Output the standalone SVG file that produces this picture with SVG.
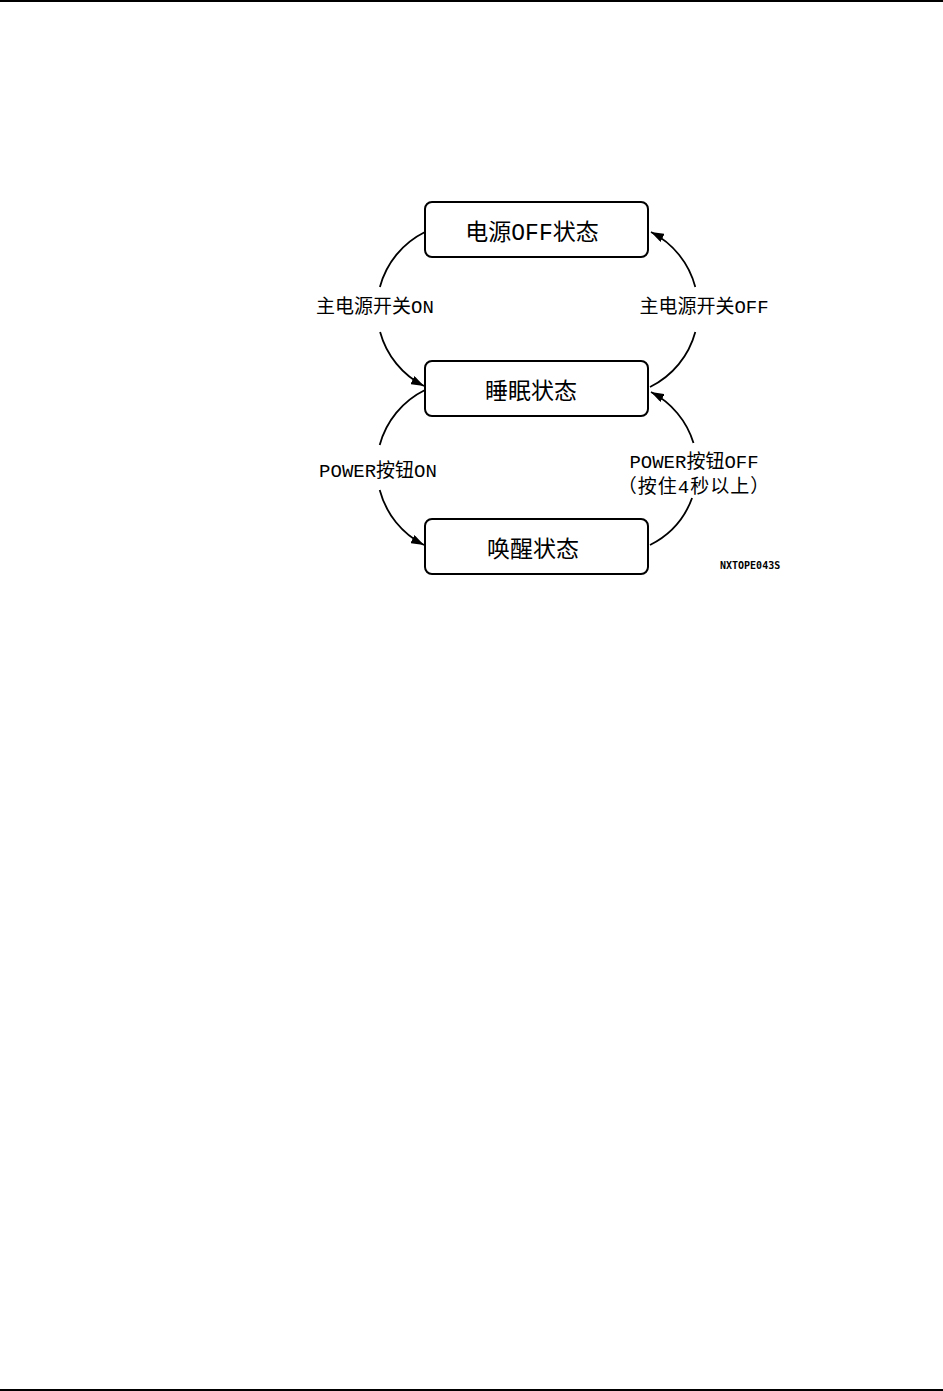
<svg xmlns="http://www.w3.org/2000/svg" width="943" height="1391" viewBox="0 0 943 1391">
  <style>
    .box { fill: #fff; stroke: #000; stroke-width: 2; }
    .conn { fill: none; stroke: #000; stroke-width: 1.8; }
    .state { font-family: "Liberation Mono", "Noto Sans CJK SC", monospace; font-size: 23px; fill: #000; text-anchor: middle; }
    .lbl { font-family: "Liberation Mono", "Noto Sans CJK SC", monospace; font-size: 19px; fill: #000; text-anchor: middle; }
    .code { font-family: "DejaVu Sans Mono", monospace; font-size: 10px; font-weight: bold; fill: #000; }
  </style>
  <defs>
    <marker id="arrow" markerUnits="userSpaceOnUse" markerWidth="13" markerHeight="9" refX="13" refY="4.5" orient="auto">
      <path d="M0,0 L13,4.5 L0,9 z" fill="#000"/>
    </marker>
  </defs>
  <rect x="0" y="0" width="943" height="2" fill="#000"/>
  <rect x="0" y="1389" width="943" height="2" fill="#000"/>

  <g id="connectors">
    <path class="conn" d="M425,232 A86,86 0 0,0 379.9,287 M380.1,332 A86,86 0 0,0 424,386" marker-end="url(#arrow)"/>
    <path class="conn" d="M425,390 A86.3,86.3 0 0,0 379.7,445 M379.7,490 A86.3,86.3 0 0,0 424,545" marker-end="url(#arrow)"/>
    <path class="conn" d="M650,387 A86.3,86.3 0 0,0 695.3,332 M695.3,287 A86.3,86.3 0 0,0 651,232" marker-end="url(#arrow)"/>
    <path class="conn" d="M650,545 A85.4,85.4 0 0,0 692.1,498 M693.5,443 A85.4,85.4 0 0,0 651,392" marker-end="url(#arrow)"/>
  </g>

  <g id="node-power-off">
    <rect class="box" x="425" y="202" width="223" height="55" rx="7"/>
    <text class="state" x="532" y="240">电源OFF状态</text>
  </g>
  <g id="node-sleep">
    <rect class="box" x="425" y="361" width="223" height="55" rx="7"/>
    <text class="state" x="531" y="399">睡眠状态</text>
  </g>
  <g id="node-wake">
    <rect class="box" x="425" y="519" width="223" height="55" rx="7"/>
    <text class="state" x="533" y="557">唤醒状态</text>
  </g>

  <g id="labels">
    <text class="lbl" x="375" y="313">主电源开关ON</text>
    <text class="lbl" x="704" y="313">主电源开关OFF</text>
    <text class="lbl" x="378" y="477">POWER按钮ON</text>
    <text class="lbl" x="694" y="468">POWER按钮OFF</text>
    <text class="lbl" x="694" y="493" letter-spacing="1">（按住4秒以上）</text>
    <text class="code" x="720" y="569">NXTOPE043S</text>
  </g>
</svg>
